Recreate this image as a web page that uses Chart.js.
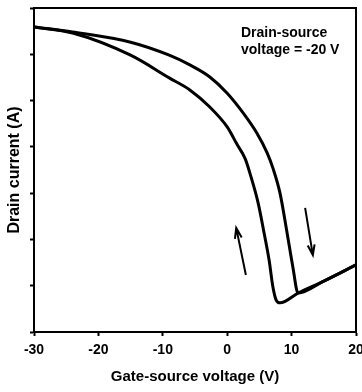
<!DOCTYPE html>
<html>
<head>
<meta charset="utf-8">
<script src="https://cdn.jsdelivr.net/npm/chart.js@4/dist/chart.umd.min.js"></script>
<style>
  html, body { margin: 0; padding: 0; background: #fff; }
  canvas { display: block; }
</style>
</head>
<body>
<canvas id="c" width="362" height="392"></canvas>
<script>
// ── Data (arbitrary current units 0..7) ──
const xTicks = [-30, -20, -10, 0, 10, 20];

// forward sweep (-30 → +20): outer curve, then the linear tail
const forwardV = [-30, -24, -15, -9, -5.8, -2.7, 0, 2.5, 4.6, 6.2, 7.1, 8.2, 9.3, 10.2, 11.0, 15, 20];
const forwardI = [6.59, 6.48, 6.26, 5.98, 5.77, 5.51, 5.16, 4.73, 4.30, 3.87, 3.54, 3.00, 2.14, 1.40, 0.84, 1.10, 1.45];

// reverse sweep (+20 → -30): linear tail, minimum near 8 V, inner curve
const reverseV = [-30, -24, -15, -9, -5.8, -2.7, 0, 1.5, 2.8, 3.7, 4.8, 5.7, 6.5, 7.1, 7.6, 8.2, 11.0, 15, 20];
const reverseI = [6.59, 6.46, 5.98, 5.49, 5.23, 4.86, 4.43, 4.06, 3.74, 3.35, 2.79, 2.16, 1.56, 0.97, 0.69, 0.63, 0.84, 1.10, 1.45];

// sweep direction arrows: [tailV, tailI, headV, headI]
const upArrow   = [2.9, 1.23, 1.4, 2.25];
const downArrow = [12.1, 2.68, 13.3, 1.66];

const noteLines = ['Drain-source', 'voltage = -20 V'];

const font = "'Liberation Sans', Arial, sans-serif";

// ── Box round the plot + arrows + note ──────────────────────────────
const extras = {
    id: 'extras',
    afterDatasetsDraw(chart) {
        const { ctx, chartArea: a, scales: { x, y } } = chart;
        ctx.save();
        ctx.strokeStyle = '#000';
        ctx.lineWidth = 2;
        ctx.beginPath();
        ctx.moveTo(a.left, a.top);
        ctx.lineTo(a.right, a.top);
        ctx.lineTo(a.right, a.bottom);
        ctx.stroke();

        const arrow = (p) => {
            const x0 = x.getPixelForValue(p[0]), y0 = y.getPixelForValue(p[1]);
            const x1 = x.getPixelForValue(p[2]), y1 = y.getPixelForValue(p[3]);
            const ang = Math.atan2(y1 - y0, x1 - x0);
            const h = 11, spread = 0.32;
            ctx.beginPath();
            ctx.moveTo(x0, y0);
            ctx.lineTo(x1, y1);
            ctx.moveTo(x1 - h * Math.cos(ang - spread), y1 - h * Math.sin(ang - spread));
            ctx.lineTo(x1, y1);
            ctx.lineTo(x1 - h * Math.cos(ang + spread), y1 - h * Math.sin(ang + spread));
            ctx.stroke();
        };
        ctx.lineWidth = 2;
        arrow(upArrow);
        arrow(downArrow);

        ctx.fillStyle = '#000';
        ctx.font = `bold 14px ${font}`;
        ctx.textBaseline = 'middle';
        ctx.textAlign = 'left';
        noteLines.forEach((t, i) => ctx.fillText(t, a.right - 115, a.top + 25 + i * 17));
        ctx.restore();
    }
};

const line = (v, i) => ({
    data: v.map((vv, k) => ({ x: vv, y: i[k] })),
    borderColor: '#000',
    borderWidth: 3,
    pointRadius: 0,
    fill: false,
    cubicInterpolationMode: 'monotone'
});

new Chart(document.getElementById('c'), {
    type: 'line',
    data: { datasets: [line(forwardV, forwardI), line(reverseV, reverseI)] },
    options: {
        responsive: false, animation: false,
        layout: { padding: { top: 8, right: 6, left: 0, bottom: 0 } },
        plugins: { legend: { display: false }, tooltip: { enabled: false } },
        scales: {
            x: {
                type: 'linear', min: -30, max: 20,
                afterBuildTicks: s => { s.ticks = xTicks.map(v => ({ value: v })); },
                afterFit: s => { s.height = 60; s.paddingRight = 0; s.paddingLeft = 0; },
                border: { color: '#000', width: 2 },
                grid: { drawOnChartArea: false, tickLength: 4, tickColor: '#000', tickWidth: 2 },
                ticks: { color: '#000', padding: 6, maxRotation: 0, font: { family: font, size: 14, weight: 'bold' } },
                title: { display: true, text: 'Gate-source voltage (V)', color: '#000',
                         padding: { top: 0, bottom: 6 }, font: { family: font, size: 15, weight: 'bold' } }
            },
            y: {
                min: 0, max: 7,
                ticks: { stepSize: 1, display: false },
                afterFit: s => { s.width = 34; s.paddingTop = 0; s.paddingBottom = 0; },
                border: { color: '#000', width: 2 },
                grid: { drawOnChartArea: false, tickLength: 4, tickColor: '#000', tickWidth: 2 },
                title: { display: true, text: 'Drain current (A)', color: '#000',
                         padding: { top: 5, bottom: 0 }, font: { family: font, size: 16, weight: 'bold' } }
            }
        }
    },
    plugins: [extras]
});
</script>
</body>
</html>
